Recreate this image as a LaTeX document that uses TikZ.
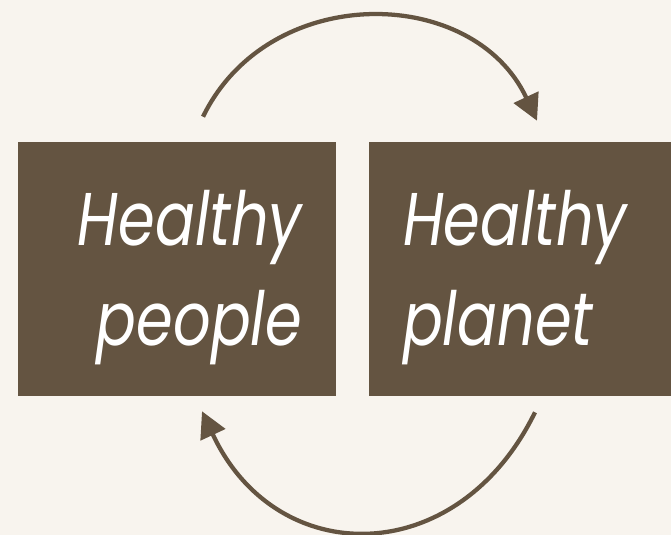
\documentclass[tikz,border=0pt]{standalone}
\usepackage{fontspec}
\setmainfont{Poppins}[FakeStretch=0.79]
\usetikzlibrary{arrows.meta}
\definecolor{cocoa}{RGB}{100,84,65}
\definecolor{cream}{RGB}{248,244,238}
\newcommand{\toplift}{\rule{0pt}{54pt}}
\tikzset{
  panel/.style={fill=cocoa, text=white, minimum height=190.5pt, inner xsep=25.5pt, inner ysep=0pt,
    font=\itshape\fontsize{56}{75}\selectfont},
  loop arrow/.style={draw=cocoa, line width=3.2pt, -{Triangle[length=19.5pt,width=20pt]}}
}
\begin{document}
\begin{tikzpicture}[x=0.75pt,y=0.75pt]
    \useasboundingbox[fill=cream] (0,0) rectangle (671,535);
    \node[panel, text width=187.5pt, align=right] (people) at (177,266) {\toplift Healthy\\people};
    \node[panel, text width=175.5pt, align=left] (planet) at (520,266) {\toplift Healthy\\planet};
    \draw[loop arrow, looseness=1.15] ([shift={(26,25)}]people.north) to[out=64,in=115] ([shift={(17,21)}]planet.north);
    \draw[loop arrow, looseness=1.35] ([shift={(15,-16)}]planet.south) to[out=-116,in=-65] ([shift={(25,-15)}]people.south);
  \end{tikzpicture}
\end{document}
